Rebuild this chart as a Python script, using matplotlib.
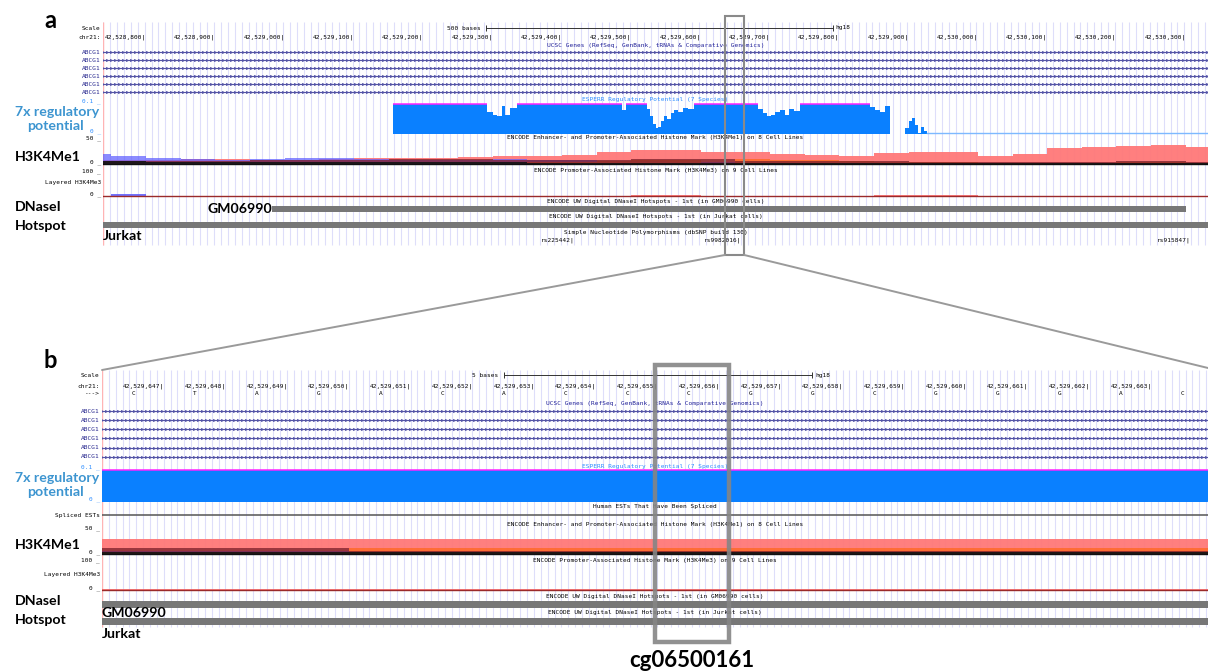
import numpy as np
import matplotlib.pyplot as plt
from matplotlib.patches import Rectangle, ConnectionPatch

plt.rcParams['font.family'] = ['Lato', 'DejaVu Sans']
MONO = 'DejaVu Sans Mono'

# ---------------- data (hg18, chr21) ----------------
win_a = (42528738, 42530332)
win_b = (42529645.99, 42529663.91)

ticks_a = list(range(42528800, 42530301, 100))
ticks_b = list(range(42529647, 42529664))
seq_start = 42529647
seq_b = "CTAGACACCCGGCGGGAC"

scalebar_a = (42529291, 42529791, "500 bases")
scalebar_b = (42529652.5, 42529657.5, "5 bases")

abcg1_names = ["ABCG1"] * 6
abcg1_tx = [(42495130, 42593760), (42497180, 42593760), (42503260, 42593760),
            (42503260, 42593760), (42514470, 42593760), (42514470, 42593760)]

# ESPERR regulatory potential, step values (start of each step)
esperr_start = [42529157, 42529292, 42529300, 42529307, 42529313, 42529318, 42529325,
                42529335, 42529487, 42529493, 42529523, 42529527, 42529531, 42529535,
                42529539, 42529543, 42529547, 42529552, 42529557, 42529562, 42529568,
                42529575, 42529582, 42529590, 42529683, 42529690, 42529696, 42529702,
                42529708, 42529715, 42529722, 42529728, 42529735, 42529743, 42529844,
                42529852, 42529859, 42529866, 42529873, 42529895, 42529900, 42529905,
                42529910, 42529914, 42529918, 42529922]
esperr_val = [0.100, 0.072, 0.063, 0.060, 0.095, 0.062, 0.088,
              0.100, 0.080, 0.100, 0.085, 0.060, 0.035, 0.020,
              0.025, 0.045, 0.060, 0.050, 0.070, 0.080, 0.075,
              0.088, 0.085, 0.100, 0.085, 0.070, 0.060, 0.065,
              0.075, 0.080, 0.065, 0.085, 0.078, 0.100, 0.090,
              0.080, 0.075, 0.095, 0.000, 0.020, 0.045, 0.055,
              0.030, 0.005, 0.025, 0.010]
esperr_end = 42529927

# H3K4Me1 signal, 50 bp bins starting at 42,528,700
me1_bin0 = 42528700
me1_bin = 50
me1_pink = [8, 8, 8, 10, 10, 9, 9, 10, 12, 14, 14, 16, 17, 18, 20, 27, 31, 30, 27, 27,
            21, 20, 18, 24, 26, 26, 17, 22, 34, 37, 39, 41, 37]
me1_blue = [22, 17, 14, 11, 9, 10, 14, 14, 10, 8, 8, 9, 10, 8, 8, 7, 6, 5, 5, 4,
            4, 4, 4, 4, 3, 3, 3, 3, 3, 3, 3, 3, 3]
me1_orange = [0, 0, 0, 0, 0, 0, 0, 0, 0, 0, 0, 0, 0, 4, 5, 6, 8, 9, 3, 10,
              9, 8, 6, 5, 5, 4, 3, 2, 2, 3, 4, 4, 3]
me1_darkred = [6, 6, 6, 7, 7, 8, 9, 9, 9, 10, 10, 10, 9, 8, 8, 9, 10, 10, 10, 6,
               7, 6, 6, 6, 5, 5, 4, 4, 5, 5, 6, 6, 5]
me1_black = [6, 6, 5, 5, 5, 5, 5, 5, 4, 4, 4, 4, 4, 3, 3, 3, 3, 3, 3, 3,
             3, 2, 2, 2, 2, 2, 2, 2, 2, 2, 2, 2, 2]

# H3K4Me3 signal, same bins
me3_blue = [0, 8, 3, 0, 0, 0, 0, 0, 0, 0, 0, 0, 0, 0, 0, 0, 0, 0, 0, 0,
            0, 0, 0, 0, 0, 0, 0, 0, 0, 0, 0, 0, 0]
me3_pink = [2, 2, 2, 2, 2, 2, 2, 2, 2, 2, 2, 2, 2, 2, 2, 2, 4, 4, 3, 3,
            2, 2, 2, 4, 4, 4, 2, 2, 3, 2, 2, 2, 2]

# DNaseI hotspots
gm06990_hot = (42528982, 42530300)
jurkat_hot = (42528600, 42530500)

# spliced EST
est_span = (42529100, 42530200)

# dbSNP 130
snp_names = ["rs225442", "rs9982016", "rs915847"]
snp_pos = [42529418, 42529659, 42530307]

# 450K probe
probe_name = "cg06500161"
probe_a = (42529635, 42529663)
probe_b = (42529654.95, 42529656.15)

# ---------------- figure ----------------
W, H = 1208, 671
fig = plt.figure(figsize=(W / 100, H / 100), dpi=100)


def px_axes(x0, x1, y0, y1):
    return fig.add_axes([x0 / W, 1 - y1 / H, (x1 - x0) / W, (y1 - y0) / H])


ax_a = px_axes(103, 1208, 14, 258)
ax_a.set_xlim(*win_a)
ax_a.set_ylim(258, 14)
ax_b = px_axes(102, 1208, 362, 645)
ax_b.set_xlim(*win_b)
ax_b.set_ylim(645, 362)
for ax in (ax_a, ax_b):
    ax.axis('off')

geo_a = dict(grid=(22, 245), scale_y=28, chr_y=37.5, genes_title=45,
             gene_rows=[52, 60, 68, 76, 84, 92],
             esp_title=100, esp_top=104, esp_base=134,
             me1_title=137.5, me1_base=164, me1_k=0.46,
             me3_title=170.5, me3_base=196.5, me3_k=0.25,
             gm_title=201.5, gm_bar=(206, 212), jk_title=217, jk_bar=(222, 228),
             px_per_unit=1105 / (win_a[1] - win_a[0]))
geo_b = dict(grid=(370, 627), scale_y=375, chr_y=386.5, genes_title=403.3,
             gene_rows=[411, 420.1, 429.2, 438.3, 447.5, 456.6],
             esp_title=466, esp_top=470, esp_base=501.7,
             me1_title=524, me1_base=554, me1_k=0.56,
             me3_title=560, me3_base=590, me3_k=0.3,
             gm_title=596, gm_bar=(601, 608), jk_title=612.5, jk_bar=(618, 625),
             px_per_unit=1106 / (win_b[1] - win_b[0]))


def small(ax, x, y, s, color='black', ha='center', **kw):
    ax.text(x, y, s, fontsize=4.4, family=MONO, color=color, ha=ha, va='center', **kw)


def left_label(ax, y, s, color='black'):
    ax.text(-0.002, y, s, transform=ax.get_yaxis_transform(), fontsize=4.4,
            family=MONO, color=color, ha='right', va='center')


def title(ax, y, s, color='black'):
    ax.text(0.5, y, s, transform=ax.get_yaxis_transform(), fontsize=4.4,
            family=MONO, color=color, ha='center', va='center')


def draw_browser(ax, win, g, ticks, scalebar, grid_step):
    ppu = g['px_per_unit']
    # background guidelines and left border
    ax.vlines(np.arange(win[0], win[1], grid_step), *g['grid'], color='#dedefa', lw=0.8, zorder=0)
    ax.vlines([win[0]], *g['grid'], color='#ffb4b4', lw=1.0, zorder=1)

    # ruler
    s0, s1, s_lab = scalebar
    y = g['scale_y']
    ax.plot([s0, s1], [y, y], color='#333333', lw=0.7)
    ax.vlines([s0, s1], y - 3, y + 3, color='#333333', lw=0.7)
    ax.annotate(s_lab + " ", (s0, y), xytext=(-1, 0), textcoords='offset points',
                fontsize=4.4, family=MONO, ha='right', va='center')
    ax.annotate("hg18", (s1, y), xytext=(2, 0), textcoords='offset points',
                fontsize=4.4, family=MONO, ha='left', va='center')
    for p in ticks:
        small(ax, p, g['chr_y'], f"{p:,}|", ha='right')
    left_label(ax, y, "Scale")
    left_label(ax, g['chr_y'], "chr21:")

    # UCSC genes
    title(ax, g['genes_title'], "UCSC Genes (RefSeq, GenBank, tRNAs & Comparative Genomics)", '#1e1e96')
    arrow_x = np.arange(win[0], win[1], 4 / ppu)
    for name, (t0, t1), gy in zip(abcg1_names, abcg1_tx, g['gene_rows']):
        ax.plot([max(t0, win[0]), min(t1, win[1])], [gy, gy], color='#5454a6', lw=0.8)
        ax.plot(arrow_x, np.full(arrow_x.size, gy), ls='none', marker='>', ms=1.9,
                color='#5454a6', mew=0.3)
        left_label(ax, gy, name, '#23238c')

    # ESPERR regulatory potential
    title(ax, g['esp_title'], "ESPERR Regulatory Potential (7 Species)", '#2a8cff')
    left_label(ax, g['esp_top'] - 3, "0.1 _", '#2a8cff')
    left_label(ax, g['esp_base'] - 2.5, "0 _", '#2a8cff')
    k = (g['esp_base'] - g['esp_top']) / 0.1
    edges = np.array(esperr_start + [esperr_end], float)
    vals = np.minimum(np.array(esperr_val), 0.1)
    ytop = g['esp_base'] - vals * k
    ax.fill_between(edges, np.append(ytop, ytop[-1]), g['esp_base'], step='post',
                    color='#0a80ff', lw=0, zorder=2)
    for x0, x1, v in zip(edges[:-1], edges[1:], esperr_val):
        if v >= 0.1:
            ax.plot([x0, x1], [g['esp_top'], g['esp_top']], color='#ff22ff', lw=1.1, zorder=3,
                    solid_capstyle='butt')
    ax.plot([esperr_end, win[1]], [g['esp_base'] - 0.5] * 2, color='#7db9ff', lw=1.0, zorder=2)

    # H3K4Me1 (overlaid cell lines)
    title(ax, g['me1_title'], "ENCODE Enhancer- and Promoter-Associated Histone Mark (H3K4Me1) on 8 Cell Lines")
    left_label(ax, g['me1_base'] - 25 - 0.5, "50 _")
    left_label(ax, g['me1_base'] - 2, "0 _")
    me_edges = me1_bin0 + me1_bin * np.arange(len(me1_pink) + 1)
    layers = [(me1_pink, '#ff7878', 0.95), (me1_blue, '#5a5aff', 0.7),
              (me1_orange, '#ff6a2a', 0.85), (me1_darkred, '#7a1e28', 0.75),
              (me1_black, '#151515', 0.9)]
    for series, col, alpha in layers:
        v = np.minimum(np.array(series, float), 50)
        yv = g['me1_base'] - v * g['me1_k']
        ax.fill_between(me_edges, np.append(yv, yv[-1]), g['me1_base'], step='post',
                        color=col, alpha=alpha, lw=0, zorder=2)
    ax.plot(win, [g['me1_base']] * 2, color='#111111', lw=1.0, zorder=3)

    # H3K4Me3
    title(ax, g['me3_title'], "ENCODE Promoter-Associated Histone Mark (H3K4Me3) on 9 Cell Lines")
    left_label(ax, g['me3_title'] + 0.5, "100 _")
    left_label(ax, (g['me3_title'] + g['me3_base']) / 2 - 1, "Layered H3K4Me3")
    left_label(ax, g['me3_base'] - 2, "0 _")
    for series, col in [(me3_pink, '#ff6a6a'), (me3_blue, '#5a5aff')]:
        v = np.array(series, float)
        yv = g['me3_base'] - v * g['me3_k']
        ax.fill_between(me_edges, np.append(yv, yv[-1]), g['me3_base'], step='post',
                        color=col, alpha=0.85, lw=0, zorder=2)
    ax.plot(win, [g['me3_base']] * 2, color='#9a2a2a', lw=1.0, zorder=3)

    # DNaseI hotspots
    title(ax, g['gm_title'], "ENCODE UW Digital DNaseI Hotspots - 1st (in GM06990 cells)")
    title(ax, g['jk_title'], "ENCODE UW Digital DNaseI Hotspots - 1st (in Jurkat cells)")
    for (h0, h1), (b0, b1) in [(gm06990_hot, g['gm_bar']), (jurkat_hot, g['jk_bar'])]:
        ax.add_patch(Rectangle((max(h0, win[0]), b0), min(h1, win[1]) - max(h0, win[0]), b1 - b0,
                               color='#777777', lw=0, zorder=2))


# ---------------- panel a ----------------
draw_browser(ax_a, win_a, geo_a, ticks_a, scalebar_a, 10)
title(ax_a, 233, "Simple Nucleotide Polymorphisms (dbSNP build 130)")
for name, p in zip(snp_names, snp_pos):
    small(ax_a, p, 240, name + "|", ha='right')

# ---------------- panel b ----------------
draw_browser(ax_b, win_b, geo_b, ticks_b, scalebar_b, 1 / 9)
for i, base in enumerate(seq_b):
    small(ax_b, seq_start + i - 0.5, 393.5, base)
left_label(ax_b, 393.5, "--->")
title(ax_b, 506.7, "Human ESTs That Have Been Spliced")
ax_b.plot(est_span, [515, 515], color='#555555', lw=1.1)
ax_b.set_xlim(*win_b)
left_label(ax_b, 515, "Spliced ESTs")

# ---------------- probe highlight ----------------
ax_a.add_patch(Rectangle((probe_a[0], 16), probe_a[1] - probe_a[0], 239, fill=False,
                         ec='#8a8a8a', lw=1.5, zorder=5, clip_on=False))
ax_b.add_patch(Rectangle((probe_b[0], 365), probe_b[1] - probe_b[0], 276.7, fill=False,
                         ec='#858585', lw=3.2, zorder=5, clip_on=False, alpha=0.9))
ax_b.text(sum(probe_b) / 2, 660, probe_name, fontsize=16, fontweight='bold',
          ha='center', va='center')
for xa, xb, yb in [(probe_a[0], win_b[0], 370), (probe_a[1], win_b[1], 368)]:
    fig.add_artist(ConnectionPatch(xyA=(xa, 255), coordsA=ax_a.transData,
                                   xyB=(xb, yb), coordsB=ax_b.transData,
                                   color='#9a9a9a', lw=1.4))

# ---------------- cell line / track labels ----------------
LAB = 10.2
ax_a.text(gm06990_hot[0], 209, "GM06990", fontsize=LAB, fontweight='bold', ha='right', va='center')
ax_a.text(win_a[0], 236, "Jurkat", fontsize=LAB, fontweight='bold', ha='left', va='center')
ax_b.text(win_b[0], 613, "GM06990", fontsize=LAB, fontweight='bold', ha='left', va='center')
ax_b.text(win_b[0], 634, "Jurkat", fontsize=LAB, fontweight='bold', ha='left', va='center')

ov = fig.add_axes([0, 0, 1, 1])
ov.set_xlim(0, W)
ov.set_ylim(H, 0)
ov.axis('off')
ov.text(50, 21, "a", fontsize=17, fontweight='bold', ha='center', va='center')
ov.text(50, 361, "b", fontsize=17, fontweight='bold', ha='center', va='center')
for y_reg, y_me1, y_dn in [(112, 157, 207), (478, 545, 601)]:
    ov.text(57, y_reg, "7x regulatory", fontsize=10.2, fontweight='bold',
            color='#3d95d0', ha='center', va='center')
    ov.text(55, y_reg + 14.5, "potential", fontsize=10.2, fontweight='bold',
            color='#3d95d0', ha='center', va='center')
    ov.text(15, y_me1, "H3K4Me1", fontsize=LAB, fontweight='bold', ha='left', va='center')
    ov.text(15, y_dn, "DNaseI", fontsize=LAB, fontweight='bold', ha='left', va='center')
    ov.text(15, y_dn + 19, "Hotspot", fontsize=LAB, fontweight='bold', ha='left', va='center')

fig.savefig("out.png", dpi=100)
